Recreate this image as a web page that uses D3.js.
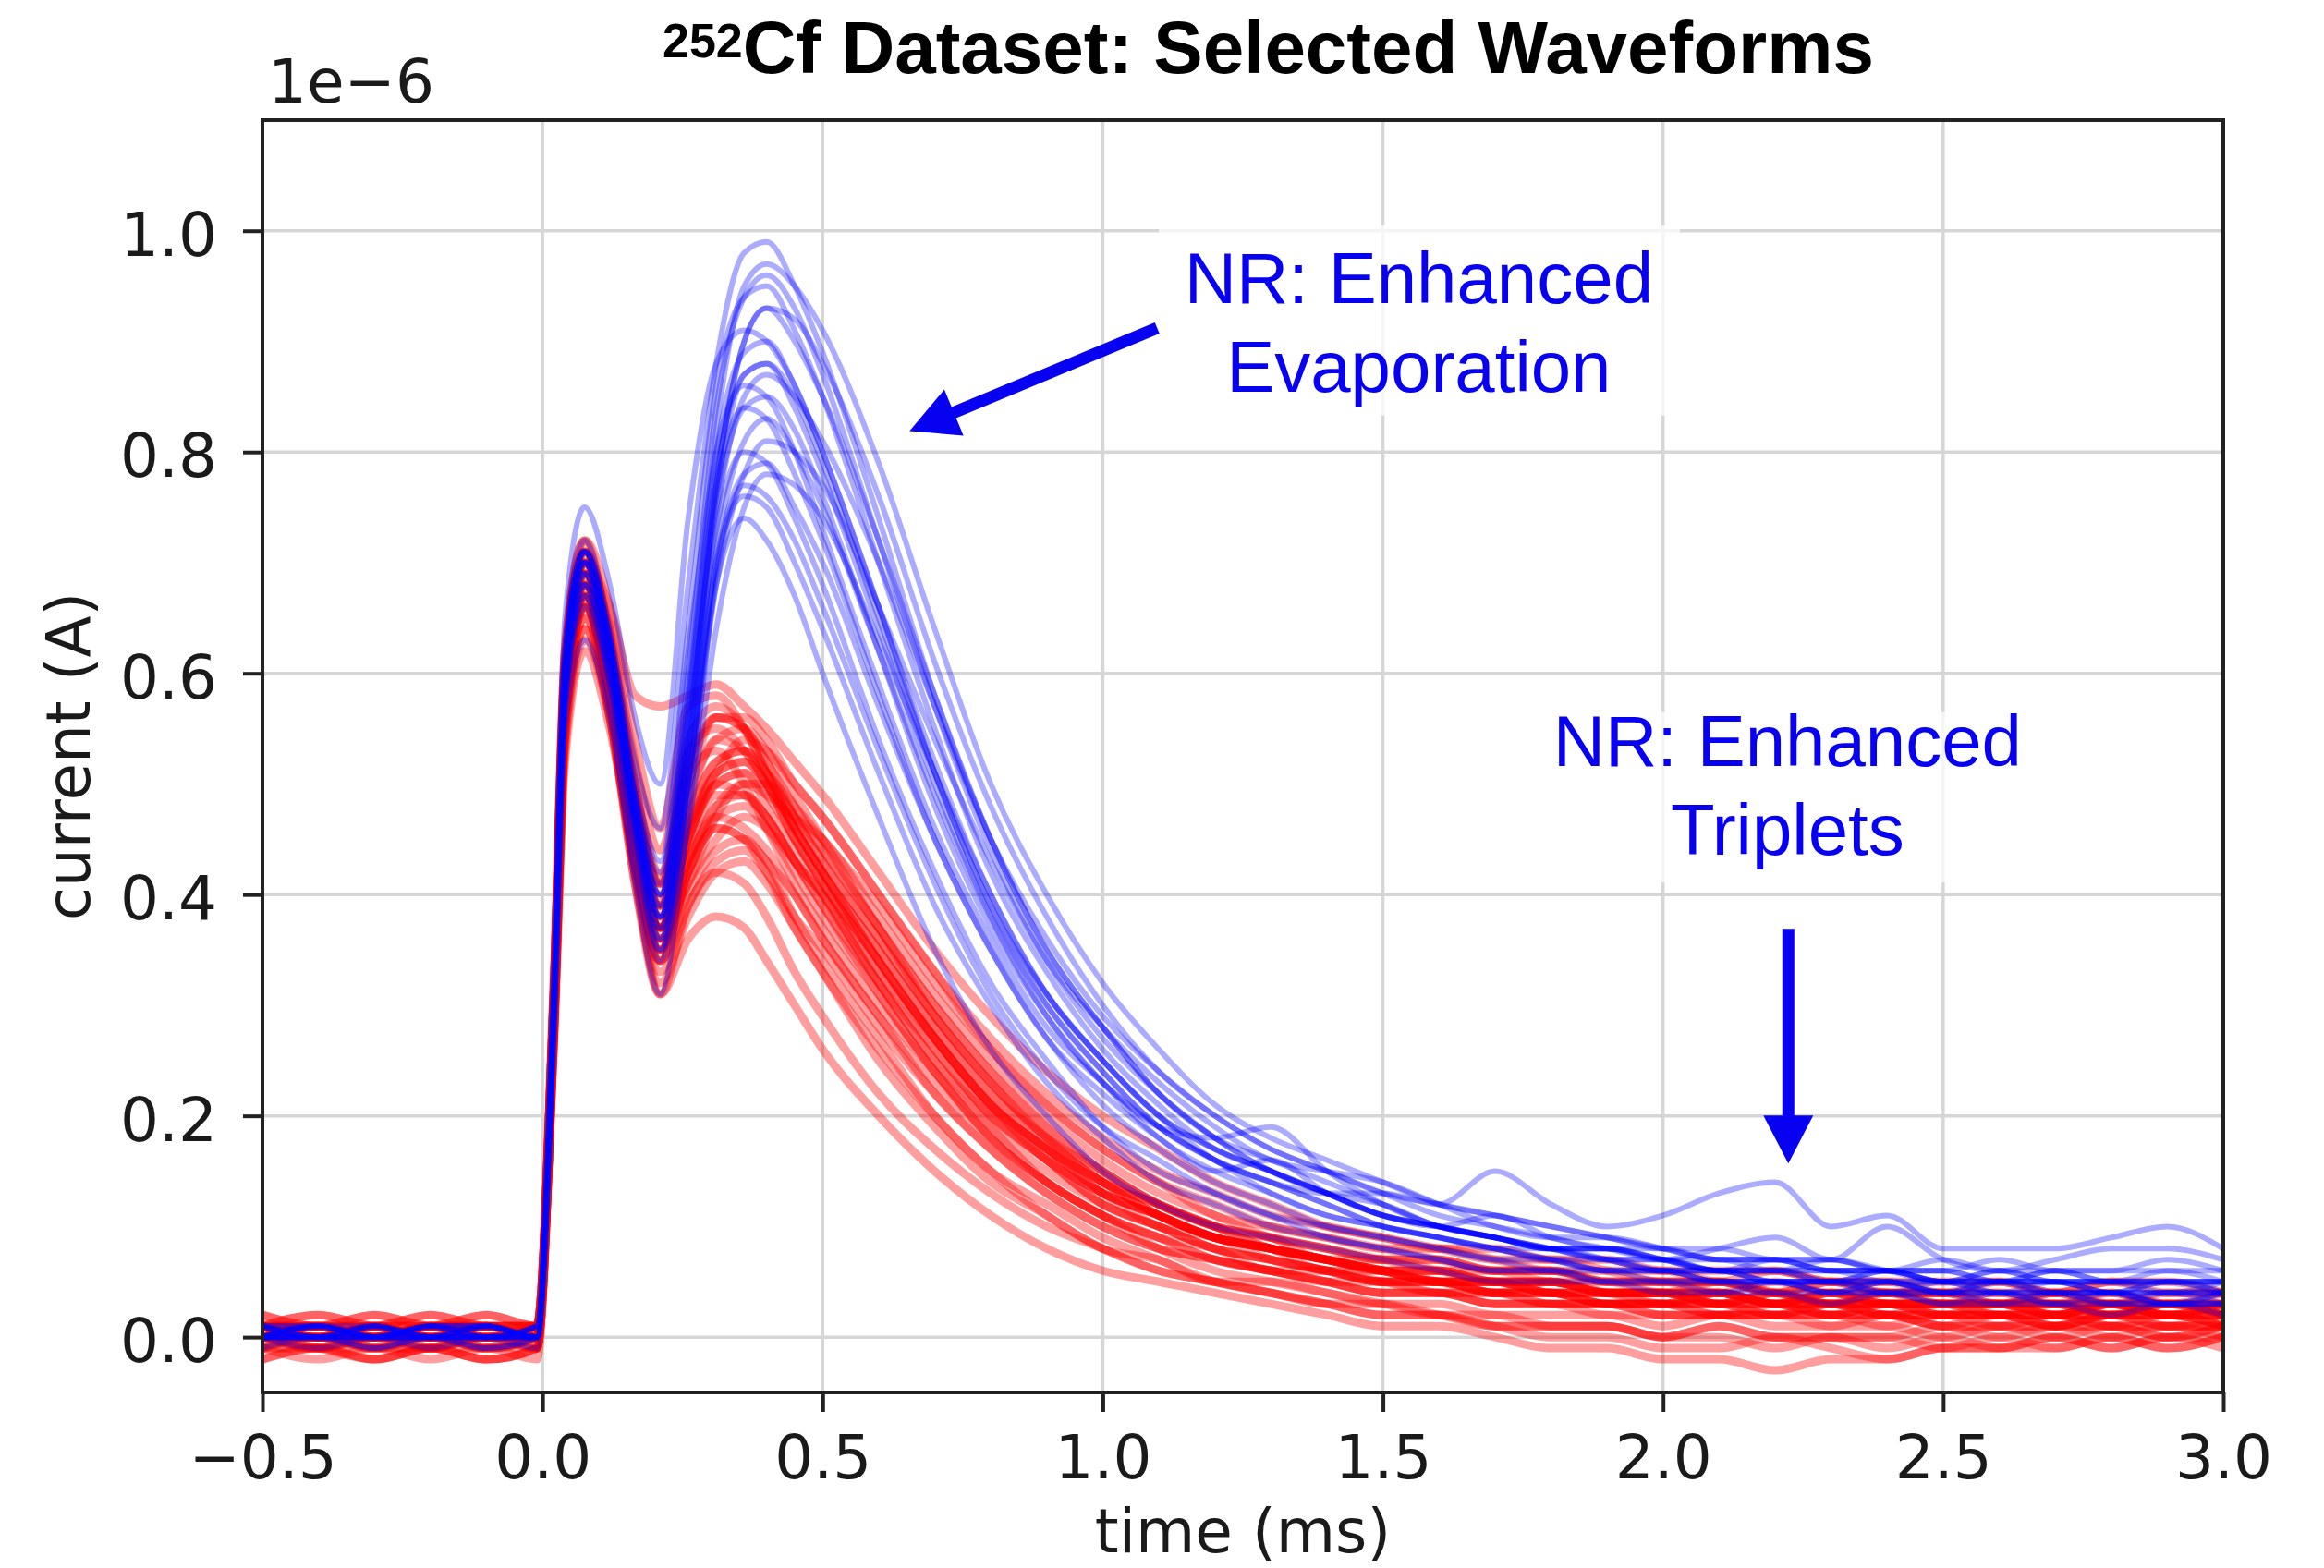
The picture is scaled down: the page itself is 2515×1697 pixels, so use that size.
<!DOCTYPE html>
<html>
<head>
<meta charset="utf-8">
<script src="https://cdnjs.cloudflare.com/ajax/libs/d3/7.8.5/d3.min.js"></script>
<style>
body { margin: 0; background: #fff; }
svg { display: block; }
</style>
</head>
<body>
<svg id="svg" width="2515" height="1697"></svg>
<script>
// time samples (ms) shared by every waveform
var timeMs = [-0.5, -0.4, -0.3, -0.2, -0.1, -0.01, 0.02, 0.04, 0.075, 0.12, 0.165, 0.21, 0.26, 0.31, 0.36, 0.40, 0.45, 0.5,
    0.6, 0.7, 0.8, 0.9, 1.0, 1.1, 1.2, 1.3, 1.4, 1.5, 1.6, 1.7, 1.8, 1.9, 2.0, 2.1, 2.2, 2.3, 2.4, 2.5, 2.6, 2.7, 2.8, 2.9, 3.0];

// current in units of 1e-6 A
var redWaves = [
    [0.01,0.00,0.01,0.00,0.01,0.00, 0.30,0.60,0.70,0.66,0.58,0.57,0.58,0.59,0.57,0.55,0.52,0.49,0.42,0.35,0.29,0.24,0.20,0.17,0.14,0.12,0.10,0.09,0.08,0.07,0.07,0.06,0.05,0.05,0.04,0.05,0.04,0.04,0.03,0.04,0.03,0.03,0.03],
    [0.01,0.02,0.01,0.01,0.02,0.01, 0.32,0.62,0.72,0.63,0.49,0.41,0.50,0.56,0.55,0.52,0.48,0.44,0.37,0.30,0.24,0.19,0.15,0.12,0.10,0.09,0.08,0.07,0.06,0.06,0.05,0.05,0.04,0.05,0.04,0.03,0.04,0.03,0.03,0.03,0.02,0.03,0.02],
    [0.00,-0.01,0.00,0.01,0.00,0.00, 0.29,0.58,0.68,0.60,0.46,0.37,0.45,0.51,0.52,0.50,0.46,0.42,0.34,0.27,0.21,0.17,0.13,0.11,0.09,0.08,0.07,0.06,0.05,0.05,0.04,0.04,0.03,0.04,0.03,0.03,0.03,0.02,0.03,0.02,0.02,0.02,0.02],
    [-0.01,0.00,-0.01,0.00,-0.01,0.00, 0.28,0.56,0.66,0.58,0.44,0.35,0.42,0.47,0.48,0.46,0.42,0.38,0.31,0.24,0.19,0.15,0.12,0.10,0.08,0.07,0.06,0.05,0.05,0.04,0.04,0.03,0.03,0.03,0.02,0.03,0.02,0.02,0.02,0.01,0.02,0.01,0.02],
    [0.01,0.00,0.01,0.00,0.00,0.01, 0.31,0.60,0.70,0.62,0.48,0.39,0.48,0.54,0.53,0.50,0.45,0.41,0.33,0.26,0.20,0.16,0.13,0.11,0.09,0.08,0.06,0.06,0.05,0.04,0.05,0.04,0.03,0.04,0.03,0.03,0.02,0.03,0.02,0.02,0.03,0.02,0.02],
    [0.00,0.01,0.00,-0.01,0.00,0.00, 0.27,0.54,0.64,0.56,0.42,0.33,0.39,0.43,0.44,0.42,0.38,0.35,0.28,0.22,0.17,0.13,0.10,0.08,0.07,0.06,0.05,0.04,0.04,0.03,0.03,0.03,0.02,0.02,0.02,0.02,0.01,0.02,0.01,0.01,0.01,0.01,0.01],
    [-0.02,-0.01,-0.02,-0.01,-0.02,-0.01, 0.27,0.55,0.66,0.57,0.41,0.31,0.36,0.38,0.37,0.34,0.30,0.26,0.20,0.15,0.11,0.08,0.06,0.05,0.04,0.03,0.02,0.01,0.01,0.00,-0.01,-0.01,-0.02,-0.02,-0.03,-0.02,-0.02,-0.01,-0.01,0.00,-0.01,0.00,0.00],
    [0.02,0.01,0.02,0.01,0.02,0.01, 0.31,0.61,0.71,0.64,0.52,0.44,0.54,0.57,0.55,0.51,0.46,0.42,0.35,0.28,0.22,0.18,0.14,0.12,0.10,0.09,0.08,0.07,0.07,0.06,0.06,0.05,0.05,0.04,0.05,0.04,0.04,0.04,0.03,0.04,0.04,0.03,0.04],
    [0.00,0.00,0.01,0.00,0.00,0.00, 0.28,0.57,0.67,0.59,0.45,0.36,0.41,0.47,0.50,0.50,0.47,0.44,0.37,0.29,0.23,0.18,0.14,0.11,0.09,0.08,0.07,0.06,0.05,0.05,0.04,0.04,0.04,0.03,0.03,0.04,0.03,0.03,0.03,0.02,0.03,0.03,0.02],
    [0.01,0.01,0.00,0.01,0.01,0.00, 0.30,0.59,0.69,0.61,0.47,0.38,0.47,0.52,0.53,0.51,0.48,0.45,0.39,0.32,0.26,0.21,0.17,0.14,0.12,0.10,0.09,0.08,0.08,0.07,0.06,0.06,0.06,0.05,0.06,0.05,0.05,0.04,0.05,0.04,0.05,0.04,0.04],
    [-0.01,-0.01,0.00,-0.01,0.00,-0.01, 0.27,0.55,0.65,0.57,0.43,0.34,0.42,0.46,0.45,0.42,0.37,0.33,0.25,0.19,0.14,0.11,0.08,0.07,0.05,0.05,0.04,0.03,0.03,0.02,0.02,0.02,0.01,0.02,0.01,0.01,0.01,0.00,0.01,0.00,0.01,0.00,0.01],
    [0.00,0.01,0.00,0.00,0.01,0.00, 0.31,0.60,0.70,0.62,0.48,0.40,0.49,0.54,0.55,0.53,0.49,0.45,0.37,0.30,0.24,0.19,0.15,0.12,0.10,0.09,0.07,0.07,0.06,0.05,0.05,0.04,0.04,0.04,0.03,0.04,0.03,0.03,0.03,0.03,0.02,0.03,0.03],
    [0.01,0.00,0.00,0.01,0.00,0.01, 0.26,0.52,0.62,0.55,0.43,0.35,0.43,0.48,0.49,0.47,0.43,0.39,0.32,0.25,0.20,0.16,0.12,0.10,0.08,0.07,0.06,0.05,0.05,0.04,0.04,0.03,0.03,0.03,0.03,0.02,0.03,0.02,0.02,0.02,0.02,0.02,0.01],
    [-0.02,-0.01,-0.01,-0.02,-0.01,-0.01, 0.29,0.58,0.68,0.60,0.46,0.37,0.45,0.50,0.51,0.48,0.44,0.40,0.32,0.25,0.19,0.14,0.11,0.08,0.06,0.05,0.04,0.03,0.02,0.02,0.01,0.01,0.00,0.01,0.00,0.00,-0.01,0.00,-0.01,0.00,-0.01,0.00,-0.01],
    [0.00,-0.01,-0.02,-0.01,-0.02,-0.01, 0.28,0.57,0.67,0.58,0.42,0.31,0.39,0.42,0.41,0.38,0.33,0.29,0.22,0.17,0.13,0.10,0.08,0.06,0.05,0.04,0.03,0.02,0.02,0.01,0.01,0.01,0.00,0.00,-0.01,0.00,0.00,0.01,0.00,0.01,0.00,0.01,0.00],
    [0.01,0.02,0.01,0.02,0.01,0.01, 0.31,0.61,0.71,0.63,0.50,0.41,0.51,0.56,0.55,0.52,0.47,0.43,0.36,0.29,0.23,0.18,0.15,0.12,0.10,0.08,0.07,0.06,0.06,0.05,0.05,0.04,0.04,0.04,0.03,0.03,0.04,0.03,0.03,0.03,0.03,0.02,0.03],
    [0.00,0.00,-0.01,0.00,-0.01,0.00, 0.28,0.56,0.66,0.58,0.44,0.36,0.41,0.45,0.47,0.46,0.43,0.40,0.33,0.27,0.21,0.17,0.13,0.10,0.09,0.07,0.06,0.05,0.05,0.04,0.04,0.03,0.03,0.03,0.02,0.03,0.02,0.02,0.02,0.02,0.01,0.02,0.02],
    [0.01,0.00,0.01,0.01,0.00,0.01, 0.30,0.59,0.69,0.61,0.47,0.39,0.51,0.53,0.50,0.46,0.41,0.37,0.30,0.24,0.18,0.14,0.11,0.09,0.08,0.06,0.06,0.05,0.04,0.04,0.03,0.03,0.03,0.02,0.03,0.02,0.02,0.02,0.02,0.01,0.02,0.02,0.01],
    [0.01,0.00,0.00,0.01,0.01,0.00, 0.30,0.59,0.69,0.61,0.46,0.37,0.46,0.51,0.52,0.50,0.46,0.42,0.35,0.28,0.22,0.17,0.14,0.11,0.09,0.08,0.07,0.06,0.05,0.05,0.05,0.04,0.04,0.03,0.04,0.03,0.03,0.03,0.02,0.03,0.03,0.02,0.03],
    [0.00,0.00,0.00,0.00,0.00,0.00, 0.29,0.57,0.67,0.59,0.45,0.36,0.44,0.49,0.49,0.47,0.43,0.39,0.31,0.24,0.18,0.14,0.11,0.09,0.07,0.06,0.05,0.05,0.04,0.04,0.03,0.03,0.03,0.02,0.02,0.02,0.02,0.01,0.02,0.01,0.02,0.01,0.01],
    [0.01,0.01,0.01,0.00,0.01,0.01, 0.31,0.61,0.71,0.63,0.50,0.42,0.52,0.56,0.56,0.54,0.50,0.47,0.40,0.33,0.27,0.22,0.18,0.15,0.13,0.11,0.10,0.09,0.08,0.08,0.07,0.07,0.06,0.06,0.06,0.05,0.05,0.05,0.05,0.04,0.05,0.05,0.04],
    [0.00,-0.01,0.00,0.00,-0.01,0.00, 0.27,0.53,0.63,0.56,0.42,0.34,0.40,0.44,0.45,0.43,0.40,0.36,0.29,0.23,0.18,0.14,0.11,0.09,0.07,0.06,0.05,0.04,0.04,0.03,0.03,0.03,0.02,0.02,0.02,0.02,0.02,0.01,0.01,0.02,0.01,0.01,0.01],
    [0.01,0.01,0.02,0.01,0.01,0.01, 0.31,0.60,0.70,0.63,0.49,0.41,0.53,0.55,0.53,0.50,0.45,0.41,0.34,0.27,0.21,0.17,0.13,0.11,0.09,0.08,0.07,0.06,0.05,0.05,0.04,0.04,0.04,0.03,0.04,0.03,0.03,0.03,0.03,0.02,0.03,0.03,0.02],
    [0.00,0.01,0.00,0.01,0.00,0.01, 0.29,0.58,0.68,0.60,0.46,0.37,0.43,0.48,0.50,0.49,0.47,0.45,0.38,0.31,0.25,0.20,0.16,0.13,0.11,0.09,0.08,0.07,0.07,0.06,0.06,0.05,0.05,0.05,0.04,0.05,0.04,0.04,0.04,0.04,0.03,0.04,0.04],
    [-0.01,0.00,-0.01,-0.01,0.00,-0.01, 0.28,0.56,0.66,0.58,0.43,0.35,0.43,0.47,0.46,0.44,0.40,0.36,0.29,0.22,0.17,0.13,0.10,0.08,0.07,0.06,0.05,0.04,0.04,0.03,0.03,0.02,0.02,0.02,0.02,0.01,0.02,0.01,0.01,0.01,0.01,0.00,0.01],
    [0.01,0.01,0.00,0.01,0.01,0.01, 0.32,0.62,0.72,0.66,0.54,0.46,0.57,0.58,0.55,0.51,0.46,0.42,0.34,0.27,0.21,0.17,0.14,0.11,0.09,0.08,0.07,0.06,0.06,0.05,0.05,0.04,0.04,0.04,0.03,0.04,0.03,0.03,0.03,0.03,0.03,0.02,0.03],
    [-0.01,-0.02,-0.01,-0.01,-0.02,-0.01, 0.27,0.54,0.64,0.56,0.41,0.32,0.38,0.42,0.43,0.41,0.37,0.33,0.26,0.20,0.15,0.12,0.09,0.07,0.05,0.04,0.03,0.03,0.02,0.01,0.01,0.01,0.00,0.01,0.00,0.00,0.00,-0.01,0.00,-0.01,0.00,-0.01,0.00],
    [0.00,0.00,0.01,0.00,0.00,0.01, 0.30,0.59,0.69,0.61,0.47,0.38,0.47,0.52,0.53,0.51,0.47,0.43,0.36,0.29,0.23,0.18,0.14,0.12,0.10,0.08,0.07,0.06,0.06,0.05,0.05,0.04,0.04,0.04,0.03,0.03,0.03,0.03,0.03,0.02,0.03,0.02,0.02],
    [0.01,0.00,0.00,0.00,0.01,0.00, 0.29,0.57,0.67,0.59,0.45,0.37,0.45,0.50,0.49,0.47,0.43,0.40,0.32,0.26,0.20,0.16,0.12,0.10,0.08,0.07,0.06,0.05,0.05,0.04,0.04,0.03,0.03,0.03,0.03,0.02,0.03,0.02,0.02,0.02,0.02,0.02,0.01],
    [0.00,0.01,0.01,0.01,0.01,0.00, 0.31,0.60,0.70,0.62,0.48,0.39,0.46,0.51,0.54,0.53,0.50,0.47,0.40,0.33,0.26,0.21,0.17,0.14,0.11,0.10,0.09,0.08,0.07,0.06,0.06,0.05,0.05,0.05,0.04,0.04,0.04,0.04,0.04,0.03,0.04,0.03,0.03],
    [-0.01,-0.01,-0.02,-0.01,-0.01,-0.02, 0.28,0.55,0.65,0.57,0.43,0.34,0.42,0.46,0.45,0.43,0.38,0.34,0.27,0.20,0.15,0.11,0.08,0.06,0.05,0.04,0.03,0.02,0.02,0.01,0.00,0.00,-0.01,-0.01,0.00,-0.01,-0.02,-0.01,-0.01,-0.01,0.00,-0.01,0.00],
    [0.02,0.01,0.01,0.02,0.01,0.01, 0.29,0.58,0.68,0.60,0.46,0.37,0.45,0.50,0.51,0.49,0.45,0.41,0.34,0.27,0.21,0.16,0.13,0.11,0.09,0.08,0.07,0.06,0.05,0.05,0.04,0.04,0.04,0.03,0.04,0.03,0.03,0.03,0.03,0.03,0.02,0.03,0.03]
];

var blueWaves = [
    [0.00,0.01,0.00,0.01,0.00,0.00, 0.31,0.62,0.72,0.64,0.52,0.46,0.68,0.88,0.98,0.99,0.95,0.89,0.74,0.58,0.45,0.35,0.28,0.22,0.18,0.15,0.13,0.11,0.10,0.09,0.08,0.07,0.06,0.06,0.05,0.05,0.05,0.04,0.05,0.04,0.04,0.04,0.04],
    [0.01,0.00,0.01,0.00,0.01,0.00, 0.30,0.60,0.70,0.62,0.48,0.40,0.58,0.82,0.95,0.97,0.95,0.91,0.79,0.64,0.50,0.40,0.32,0.26,0.21,0.18,0.16,0.14,0.12,0.11,0.10,0.09,0.08,0.07,0.07,0.06,0.06,0.06,0.05,0.06,0.05,0.05,0.05],
    [0.00,-0.01,0.00,0.00,-0.01,0.00, 0.30,0.60,0.71,0.63,0.48,0.38,0.54,0.77,0.90,0.93,0.90,0.85,0.72,0.58,0.45,0.35,0.28,0.22,0.18,0.16,0.14,0.12,0.10,0.09,0.08,0.08,0.07,0.06,0.06,0.05,0.06,0.05,0.05,0.05,0.04,0.05,0.04],
    [0.00,0.01,0.00,0.00,0.01,0.00, 0.29,0.58,0.68,0.60,0.47,0.39,0.55,0.76,0.87,0.88,0.84,0.78,0.64,0.50,0.38,0.29,0.23,0.19,0.16,0.14,0.13,0.13,0.12,0.15,0.12,0.10,0.11,0.13,0.14,0.10,0.11,0.08,0.08,0.08,0.09,0.10,0.08],
    [0.01,0.00,0.00,0.01,0.00,0.01, 0.30,0.61,0.71,0.63,0.49,0.42,0.62,0.80,0.86,0.85,0.80,0.73,0.59,0.46,0.36,0.28,0.23,0.19,0.18,0.19,0.15,0.12,0.10,0.09,0.08,0.07,0.07,0.06,0.06,0.07,0.06,0.05,0.06,0.05,0.05,0.06,0.05],
    [0.00,0.00,-0.01,0.00,0.00,-0.01, 0.29,0.59,0.69,0.61,0.46,0.36,0.50,0.71,0.81,0.83,0.80,0.75,0.62,0.49,0.38,0.30,0.24,0.19,0.16,0.13,0.11,0.10,0.09,0.08,0.07,0.06,0.06,0.05,0.05,0.05,0.04,0.05,0.04,0.04,0.04,0.03,0.04],
    [0.01,0.01,0.00,0.01,0.01,0.00, 0.30,0.60,0.70,0.62,0.47,0.37,0.53,0.73,0.80,0.79,0.74,0.68,0.54,0.42,0.32,0.25,0.19,0.15,0.13,0.11,0.09,0.08,0.07,0.06,0.06,0.05,0.05,0.04,0.05,0.04,0.04,0.03,0.04,0.03,0.03,0.03,0.03],
    [0.00,0.00,0.00,-0.01,0.00,0.00, 0.28,0.57,0.66,0.57,0.41,0.31,0.47,0.69,0.77,0.76,0.72,0.66,0.53,0.41,0.31,0.24,0.19,0.16,0.13,0.11,0.10,0.09,0.08,0.07,0.06,0.06,0.05,0.05,0.05,0.04,0.05,0.04,0.04,0.04,0.03,0.04,0.03],
    [0.00,0.01,0.00,0.00,0.01,0.00, 0.27,0.55,0.63,0.56,0.42,0.34,0.50,0.68,0.74,0.72,0.67,0.60,0.47,0.35,0.26,0.20,0.15,0.12,0.10,0.09,0.08,0.07,0.06,0.05,0.05,0.05,0.04,0.04,0.04,0.03,0.04,0.03,0.03,0.03,0.02,0.03,0.02],
    [0.01,0.00,0.01,0.00,0.00,0.01, 0.33,0.65,0.75,0.68,0.56,0.50,0.74,0.88,0.91,0.90,0.86,0.80,0.66,0.52,0.40,0.31,0.25,0.20,0.17,0.15,0.13,0.11,0.10,0.09,0.08,0.08,0.07,0.06,0.07,0.06,0.06,0.05,0.06,0.05,0.05,0.05,0.05],
    [0.00,0.00,0.00,0.00,0.00,0.00, 0.29,0.59,0.69,0.61,0.47,0.38,0.52,0.74,0.85,0.87,0.85,0.81,0.70,0.57,0.45,0.36,0.29,0.24,0.20,0.17,0.15,0.13,0.12,0.11,0.10,0.09,0.08,0.08,0.07,0.07,0.06,0.07,0.06,0.06,0.06,0.07,0.06],
    [0.00,0.01,0.01,0.00,0.00,0.01, 0.31,0.61,0.71,0.63,0.50,0.43,0.64,0.86,0.94,0.95,0.91,0.85,0.70,0.55,0.42,0.33,0.26,0.21,0.17,0.15,0.13,0.11,0.10,0.09,0.08,0.07,0.07,0.06,0.06,0.05,0.06,0.05,0.05,0.05,0.05,0.04,0.05],
    [-0.01,0.00,-0.01,0.00,-0.01,0.00, 0.28,0.57,0.67,0.59,0.45,0.35,0.46,0.64,0.75,0.78,0.77,0.74,0.63,0.51,0.40,0.31,0.25,0.20,0.16,0.14,0.12,0.10,0.09,0.08,0.07,0.06,0.06,0.05,0.05,0.04,0.05,0.04,0.04,0.03,0.04,0.03,0.03],
    [0.00,0.00,0.01,0.00,0.01,0.00, 0.30,0.60,0.70,0.62,0.48,0.40,0.58,0.77,0.84,0.83,0.78,0.72,0.58,0.45,0.35,0.27,0.22,0.18,0.15,0.16,0.13,0.11,0.10,0.11,0.09,0.08,0.07,0.08,0.09,0.07,0.10,0.07,0.06,0.07,0.08,0.08,0.07],
    [0.01,0.00,0.00,0.01,0.00,0.00, 0.31,0.61,0.71,0.63,0.49,0.41,0.60,0.84,0.94,0.96,0.93,0.87,0.72,0.57,0.44,0.34,0.27,0.22,0.18,0.15,0.13,0.12,0.10,0.09,0.08,0.08,0.07,0.06,0.06,0.06,0.05,0.05,0.05,0.05,0.04,0.05,0.04],
    [0.00,0.00,0.01,0.00,0.00,0.01, 0.30,0.60,0.70,0.62,0.48,0.39,0.57,0.80,0.89,0.90,0.86,0.80,0.66,0.51,0.39,0.30,0.24,0.19,0.16,0.14,0.12,0.10,0.09,0.08,0.08,0.07,0.06,0.06,0.05,0.05,0.05,0.05,0.04,0.05,0.04,0.04,0.04],
    [0.00,0.01,0.00,0.01,0.01,0.00, 0.29,0.59,0.69,0.61,0.47,0.38,0.54,0.75,0.84,0.85,0.82,0.76,0.62,0.48,0.37,0.29,0.23,0.18,0.15,0.13,0.11,0.10,0.09,0.08,0.07,0.07,0.06,0.06,0.05,0.05,0.05,0.04,0.05,0.04,0.04,0.04,0.04],
    [0.00,0.00,0.00,0.00,0.01,0.00, 0.29,0.58,0.68,0.60,0.46,0.37,0.49,0.68,0.78,0.81,0.80,0.77,0.66,0.54,0.43,0.34,0.28,0.23,0.19,0.16,0.15,0.14,0.12,0.10,0.09,0.09,0.08,0.07,0.07,0.07,0.06,0.06,0.07,0.06,0.06,0.06,0.06],
    [0.01,0.00,0.01,0.00,0.00,0.00, 0.28,0.57,0.67,0.59,0.44,0.35,0.51,0.70,0.76,0.75,0.70,0.64,0.51,0.39,0.30,0.23,0.18,0.14,0.12,0.10,0.09,0.08,0.07,0.06,0.06,0.05,0.05,0.05,0.04,0.04,0.04,0.04,0.03,0.04,0.03,0.03,0.03],
    [0.00,0.01,0.00,0.00,0.00,0.01, 0.30,0.61,0.71,0.63,0.49,0.40,0.56,0.78,0.87,0.88,0.85,0.79,0.65,0.51,0.39,0.31,0.25,0.20,0.17,0.15,0.13,0.11,0.10,0.09,0.08,0.08,0.07,0.07,0.06,0.06,0.06,0.05,0.05,0.05,0.05,0.05,0.05],
    [0.00,0.00,0.00,0.01,0.00,0.00, 0.29,0.58,0.68,0.60,0.45,0.36,0.50,0.70,0.78,0.79,0.75,0.70,0.57,0.45,0.35,0.27,0.21,0.17,0.14,0.12,0.10,0.09,0.08,0.07,0.07,0.06,0.06,0.05,0.05,0.05,0.04,0.04,0.04,0.04,0.04,0.03,0.04],
    [0.01,0.01,0.00,0.01,0.01,0.00, 0.30,0.60,0.70,0.62,0.47,0.38,0.53,0.77,0.90,0.93,0.92,0.88,0.76,0.61,0.48,0.38,0.30,0.24,0.20,0.17,0.15,0.13,0.11,0.10,0.09,0.08,0.08,0.07,0.07,0.06,0.06,0.06,0.05,0.06,0.05,0.05,0.05]
];

var xTicks = [-0.5, 0.0, 0.5, 1.0, 1.5, 2.0, 2.5, 3.0];
var yTicks = [0.0, 0.2, 0.4, 0.6, 0.8, 1.0];

var width = 2515;
var height = 1697;
var plotLeft = 284;
var plotRight = 2406;
var plotTop = 130;
var plotBottom = 1507;

var svg = d3.select('#svg');

var x = d3.scaleLinear().domain([-0.5, 3.0]).range([plotLeft, plotRight]);
var y = d3.scaleLinear().domain([-0.05, 1.1]).range([plotBottom, plotTop]);

var fmt = function (d) { return d3.format('.1f')(d).replace('-', '\u2212'); };

svg.append('rect')
    .attr('width', width)
    .attr('height', height)
    .attr('fill', 'white');

// grid
svg.append('g')
    .selectAll('line')
    .data(xTicks)
    .enter()
    .append('line')
    .attr('x1', function (d) { return x(d); })
    .attr('x2', function (d) { return x(d); })
    .attr('y1', plotTop)
    .attr('y2', plotBottom)
    .attr('stroke', '#d6d6d6')
    .attr('stroke-width', 3.5);

svg.append('g')
    .selectAll('line')
    .data(yTicks)
    .enter()
    .append('line')
    .attr('x1', plotLeft)
    .attr('x2', plotRight)
    .attr('y1', function (d) { return y(d); })
    .attr('y2', function (d) { return y(d); })
    .attr('stroke', '#d6d6d6')
    .attr('stroke-width', 3.5);

svg.append('clipPath')
    .attr('id', 'plotClip')
    .append('rect')
    .attr('x', plotLeft)
    .attr('y', plotTop)
    .attr('width', plotRight - plotLeft)
    .attr('height', plotBottom - plotTop);

var line = d3.line()
    .x(function (d, i) { return x(timeMs[i]); })
    .y(function (d) { return y(d); })
    .curve(d3.curveMonotoneX);

var traces = svg.append('g').attr('clip-path', 'url(#plotClip)');

traces.selectAll('.red')
    .data(redWaves)
    .enter()
    .append('path')
    .attr('class', 'red')
    .attr('d', line)
    .attr('fill', 'none')
    .attr('stroke', '#ff0000')
    .attr('stroke-opacity', 0.38)
    .attr('stroke-width', 9)
    .attr('stroke-linejoin', 'round');

traces.selectAll('.blue')
    .data(blueWaves)
    .enter()
    .append('path')
    .attr('class', 'blue')
    .attr('d', line)
    .attr('fill', 'none')
    .attr('stroke', '#0000ff')
    .attr('stroke-opacity', 0.33)
    .attr('stroke-width', 6)
    .attr('stroke-linejoin', 'round');

// axes
var xAxis = svg.append('g')
    .attr('transform', 'translate(0,' + plotBottom + ')')
    .call(d3.axisBottom(x).tickValues(xTicks).tickFormat(fmt).tickSize(21).tickPadding(25));

var yAxis = svg.append('g')
    .attr('transform', 'translate(' + plotLeft + ',0)')
    .call(d3.axisLeft(y).tickValues(yTicks).tickFormat(fmt).tickSize(21).tickPadding(28));

[xAxis, yAxis].forEach(function (a) {
    a.select('.domain').remove();
    a.selectAll('line').attr('stroke', '#222').attr('stroke-width', 4);
    a.selectAll('text')
        .attr('fill', '#1a1a1a')
        .style('font-family', 'DejaVu Sans')
        .style('font-size', '66px');
});
yAxis.selectAll('text').attr('dy', '0.4em');

svg.append('rect')
    .attr('x', plotLeft)
    .attr('y', plotTop)
    .attr('width', plotRight - plotLeft)
    .attr('height', plotBottom - plotTop)
    .attr('fill', 'none')
    .attr('stroke', '#222')
    .attr('stroke-width', 4);

svg.append('text')
    .text('time (ms)')
    .attr('x', (plotLeft + plotRight) / 2)
    .attr('y', 1680)
    .attr('text-anchor', 'middle')
    .attr('fill', '#1a1a1a')
    .style('font-family', 'DejaVu Sans')
    .style('font-size', '66px');

svg.append('text')
    .text('current (A)')
    .attr('transform', 'translate(97,' + (plotTop + plotBottom) / 2 + ') rotate(-90)')
    .attr('text-anchor', 'middle')
    .attr('fill', '#1a1a1a')
    .style('font-family', 'DejaVu Sans')
    .style('font-size', '66px');

svg.append('text')
    .text('1e\u22126')
    .attr('x', 290)
    .attr('y', 111)
    .attr('fill', '#1a1a1a')
    .style('font-family', 'DejaVu Sans')
    .style('font-size', '66px');

// title
var title = svg.append('text')
    .attr('x', 717)
    .attr('y', 79)
    .attr('fill', 'black')
    .style('font-family', 'Liberation Sans, Arial, sans-serif')
    .style('font-weight', 'bold');
title.append('tspan').text('252').style('font-size', '52px').attr('dy', -17);
title.append('tspan').text('Cf Dataset: Selected Waveforms').style('font-size', '80px').attr('dy', 17);

// annotations
var annoBlue = '#0800f0';

function noteBox(t0, t1, v0, v1) {
    svg.append('rect')
        .attr('x', x(t0))
        .attr('y', y(v1))
        .attr('width', x(t1) - x(t0))
        .attr('height', y(v0) - y(v1))
        .attr('fill', 'white')
        .attr('fill-opacity', 0.75);
}

function noteText(t, v, lines) {
    lines.forEach(function (s, i) {
        svg.append('text')
            .text(s)
            .attr('x', x(t))
            .attr('y', y(v) + i * 96)
            .attr('text-anchor', 'middle')
            .attr('fill', annoBlue)
            .style('font-family', 'Liberation Sans, Arial, sans-serif')
            .style('font-size', '78px');
    });
}

function arrow(t0, v0, t1, v1) {
    var x0 = x(t0), y0 = y(v0), x1 = x(t1), y1 = y(v1);
    var len = Math.sqrt((x1 - x0) * (x1 - x0) + (y1 - y0) * (y1 - y0));
    var ux = (x1 - x0) / len, uy = (y1 - y0) / len;
    var headLen = 52, headHalf = 27;
    var bx = x1 - ux * headLen, by = y1 - uy * headLen;
    svg.append('line')
        .attr('x1', x0).attr('y1', y0)
        .attr('x2', bx + ux * 2).attr('y2', by + uy * 2)
        .attr('stroke', annoBlue)
        .attr('stroke-width', 13);
    svg.append('polygon')
        .attr('points', [[x1, y1], [bx - uy * headHalf, by + ux * headHalf], [bx + uy * headHalf, by - ux * headHalf]].join(' '))
        .attr('fill', annoBlue);
}

noteBox(1.10, 2.03, 0.833, 1.005);
noteText(1.564, 0.935, ['NR: Enhanced', 'Evaporation']);
arrow(1.097, 0.912, 0.655, 0.819);

noteBox(1.78, 2.67, 0.411, 0.565);
noteText(2.222, 0.516, ['NR: Enhanced', 'Triplets']);
arrow(2.2236, 0.369, 2.2236, 0.157);
</script>
</body>
</html>
